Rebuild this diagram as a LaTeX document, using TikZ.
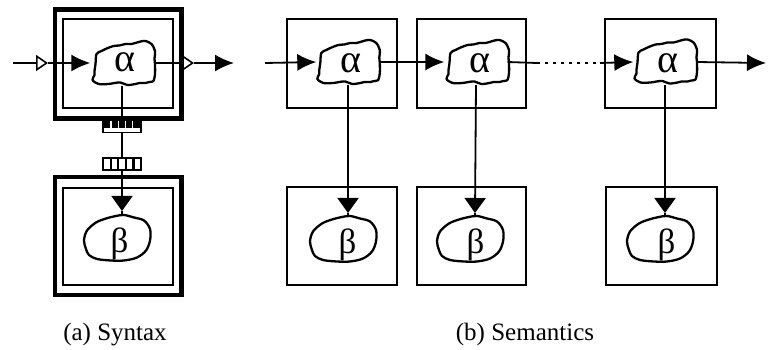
\documentclass[tikz,border=0pt]{standalone}
\usepackage{fontspec}
\setmainfont{Liberation Serif}
\usetikzlibrary{arrows.meta}

\tikzset{
  frame/.style={draw, line width=2pt, inner sep=0pt},
  heavyframe/.style={draw, line width=4.4pt, inner sep=0pt},
  link/.style={line width=1.8pt},
  dots/.style={line width=2.4pt, dash pattern=on 2.5pt off 5.5pt},
  fwd/.style={link, -{Latex[length=19pt,width=17pt]}},
  openfwd/.style={link, -{Triangle[open,length=12pt,width=16pt,line width=1.6pt]}},
  down/.style={link, -{Triangle[length=15pt,width=21pt]}},
  blobline/.style={line width=2.3pt, line join=round},
  ablob/.style={inner sep=0pt, minimum width=63pt, minimum height=46pt},
  bblob/.style={inner sep=0pt, minimum width=66pt, minimum height=46pt},
  greekA/.style={font=\fontsize{40}{44}\selectfont, inner sep=0pt, anchor=base},
  greekB/.style={font=\fontsize{35}{40}\selectfont, inner sep=0pt, anchor=base},
  caption/.style={font=\fontsize{25}{30}\selectfont, inner sep=0pt, anchor=base},
  plug/.style={draw, line width=1.3pt, inner sep=0pt, minimum width=38pt, minimum height=12pt},
  alphablob/.pic={
    \draw[blobline] plot[smooth cycle, tension=0.5] coordinates {
      (-28,1) (-27,-9) (-22,-12) (-18,-14) (-10,-17) (-4,-17.5) (2,-19) (8,-19)
      (12,-20) (17,-21.5) (22,-22) (28,-19) (31.5,-12) (31,-4) (31.5,1) (31.5,11)
      (30,18) (26,19) (22,20) (16,20) (12,21) (4,22) (-3,19.5) (-9,20)
      (-15,21) (-25,21) (-31,17) (-29,12) (-29,8)};
  },
  betablob/.pic={
    \draw[blobline] plot[smooth cycle, tension=0.55] coordinates {
      (-36,10.5) (-38,2) (-35,-8) (-26,-16) (-16,-20) (-6,-22.5) (2,-23.5)
      (12,-21) (22,-18) (28,-9.5) (28,2) (24,12) (15,19) (2,22) (-11,22)
      (-25,20.5) (-33,16.5)};
  }
}

\begin{document}
\begin{tikzpicture}[x=1pt, y=-1pt]
\useasboundingbox (0,0) rectangle (769,350);

% ---------- (a) syntax: element and its content, joined by a plug ----------
\node[heavyframe, minimum width=126.5pt, minimum height=109pt] (sto) at (118.2,64) {};
\node[frame, minimum width=110pt, minimum height=89pt] (sti) at (118.3,63.7) {};
\node[heavyframe, minimum width=126.5pt, minimum height=118pt] (sbo) at (118.2,236) {};
\node[frame, minimum width=110pt, minimum height=96.7pt] (sbi) at (118.3,236.7) {};

\pic at (123.5,63) {alphablob};
\node[ablob] (a0) at (122,63) {};
\node[greekA] (la0) at (125,72) {α};

\pic at (122,238.5) {betablob};
\node[bblob] (b0) at (122,238.5) {};
\node[greekB] (lb0) at (119.5,252) {β};

% plug on the element side: filled pins on top
\node[plug] (c1) at (122,126.5) {};
\foreach \i in {0,...,4}
  \fill (104.2+7.3*\i,121.2) rectangle ++(6.2,6.5);
% socket on the content side: open cells
\node[plug] (c2) at (122,164) {};
\foreach \i in {1,...,4}
  \draw[line width=2.2pt] (103+7.6*\i,158) -- (103+7.6*\i,170);

\coordinate (in0) at (13,63);
\coordinate (in1) at (48,63);
\coordinate (out0) at (194,63);
\coordinate (out1) at (234,63);
\coordinate (t0) at (122,211);

\draw[openfwd] (in0) -- (in1);
\draw[fwd] (in1) -- (a0.west);
\draw[openfwd] (a0.east) -- (out0);
\draw[fwd] (out0) -- (out1);
\draw[link] (a0.south) -- (c1.north);
\draw[link] (c1.south) -- (c2.north);
\draw[down] (c2.south) -- (t0);
\draw[link] (t0) -- (b0.north);

% ---------- (b) semantics: a chain of instances ----------
\node[frame, minimum width=110pt, minimum height=89pt] (e1) at (342,63.5) {};
\node[frame, minimum width=108.5pt, minimum height=89pt] (e2) at (471.3,63.5) {};
\node[frame, minimum width=111pt, minimum height=89pt] (e3) at (660.5,63.5) {};
\node[frame, minimum width=110pt, minimum height=98pt] (f1) at (342.3,236) {};
\node[frame, minimum width=109.3pt, minimum height=98pt] (f2) at (471.3,236) {};
\node[frame, minimum width=110.7pt, minimum height=98pt] (f3) at (661.3,236) {};

\pic at (348.3,62) {alphablob};
\node[ablob] (a1) at (348,62) {};
\node[greekA] (la1) at (350.5,72.5) {α};
\pic at (477.5,62) {alphablob};
\node[ablob] (a2) at (476,62) {};
\node[greekA] (la2) at (479.5,72.5) {α};
\pic at (665.5,61.5) {alphablob};
\node[ablob] (a3) at (665,62) {};
\node[greekA] (la3) at (667.5,72.5) {α};

\pic at (348,239.5) {betablob};
\node[bblob] (b1) at (348,239.5) {};
\node[greekB] (lb1) at (347.5,253) {β};
\pic at (475,239.5) {betablob};
\node[bblob] (b2) at (475,239.5) {};
\node[greekB] (lb2) at (475.5,253) {β};
\pic at (665,239.5) {betablob};
\node[bblob] (b3) at (665,239.5) {};
\node[greekB] (lb3) at (666.5,253) {β};

\coordinate (sin) at (265,63);
\coordinate (d1) at (537,63);
\coordinate (d2) at (600,63);
\coordinate (sout) at (766,63);
\coordinate (t1) at (348,213);
\coordinate (t2) at (475,213);
\coordinate (t3) at (665,213);

\draw[fwd] (sin) -- (a1.west);
\draw[fwd] (a1.east) -- (a2.west);
\draw[link] (a2.east) -- (d1);
\draw[dots] (d1) -- (d2);
\draw[fwd] (d2) -- (a3.west);
\draw[fwd] (a3.east) -- (sout);

\foreach \k in {1,2,3} {
  \draw[down] (a\k.south) -- (t\k);
  \draw[link] (t\k) -- (b\k.north);
}

% ---------- captions ----------
\node[caption] (capa) at (115,340) {(a) Syntax};
\node[caption] (capb) at (525,340) {(b) Semantics};
\end{tikzpicture}
\end{document}
